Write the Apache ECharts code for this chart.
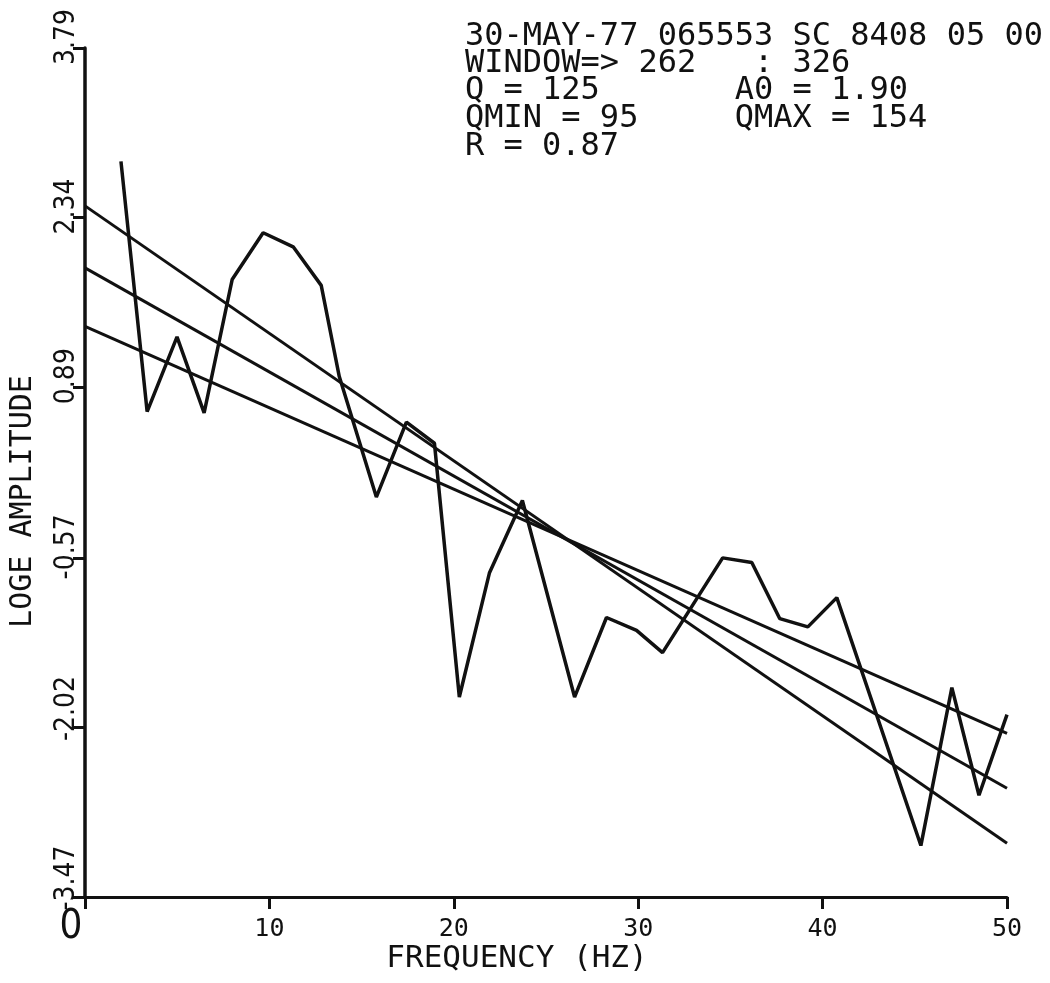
<!DOCTYPE html>
<html>
<head>
<meta charset="utf-8">
<script src="https://cdn.jsdelivr.net/npm/echarts@6/dist/echarts.min.js"></script>
<style>
html,body{margin:0;padding:0;background:#fff;}
#chart{width:1050px;height:983px;}
</style>
</head>
<body>
<div id="chart"></div>
<script>
// Spectrum samples (frequency in Hz, natural-log amplitude)
const freqHz = [1.95, 3.37, 4.99, 6.46, 7.98, 9.66, 11.29, 12.81, 13.79, 15.80, 17.43, 18.95, 20.30, 21.93, 23.72, 26.55, 28.28, 29.91, 31.32, 34.58, 36.16, 37.68, 39.20, 40.77, 45.33, 47.01, 48.48, 50.0];
const logAmp = [2.82, 0.68, 1.32, 0.67, 1.81, 2.21, 2.09, 1.76, 0.98, -0.05, 0.59, 0.41, -1.76, -0.70, -0.08, -1.76, -1.08, -1.19, -1.38, -0.57, -0.61, -1.09, -1.16, -0.91, -3.03, -1.68, -2.60, -1.91];

// Fitted lines (endpoints at 0 and 50 Hz)
const fitFreq = [0, 50];
const fitSteep = [2.44, -3.01];
const fitMid = [1.91, -2.54];
const fitShallow = [1.41, -2.07];

// Axis ticks
const yTicks = [-3.47, -2.02, -0.57, 0.89, 2.34, 3.79];
const xTicks = [0, 10, 20, 30, 40, 50];

// Header text lines
const headerLines = [
  '30-MAY-77 065553 SC 8408 05 00',
  'WINDOW=> 262   : 326',
  'Q = 125       A0 = 1.90',
  'QMIN = 95     QMAX = 154',
  'R = 0.87'
];

const pairs = (xs, ys) => xs.map((x, i) => [x, ys[i]]);
const INK = '#111';
const MONO = '"DejaVu Sans Mono", monospace';
const COND = '"DejaVu Sans Condensed", sans-serif';
const headerY = [37, 64, 91, 119, 147];

const chart = echarts.init(document.getElementById('chart'), null, {renderer: 'canvas'});

const lineSeries = (data, w) => ({
  type: 'line',
  data: data,
  symbol: 'none',
  silent: true,
  animation: false,
  lineStyle: {color: INK, width: w},
  z: 3
});

chart.setOption({
  backgroundColor: '#fff',
  animation: false,
  grid: {left: 85, right: 43, top: 48, bottom: 86, outerBoundsMode: 'none', containLabel: false},
  xAxis: {
    type: 'value',
    min: 0, max: 50,
    name: 'FREQUENCY (HZ)',
    nameLocation: 'middle',
    nameGap: 46,
    nameMoveOverlap: false,
    nameTextStyle: {fontFamily: MONO, fontSize: 31, color: INK, padding: [0, 58, 0, 0]},
    axisLine: {show: true, onZero: false, lineStyle: {color: INK, width: 3}},
    axisTick: {show: true, inside: false, length: 12, customValues: xTicks, lineStyle: {color: INK, width: 3}},
    axisLabel: {
      show: true, customValues: xTicks, margin: 20, fontFamily: MONO, fontSize: 25, color: INK,
      hideOverlap: false,
      formatter: v => v === 0 ? '{z|0}' : String(v),
      rich: {
        z: {fontFamily: '"Liberation Sans Narrow", "DejaVu Sans Condensed", sans-serif', fontSize: 40,
            lineHeight: 22, color: INK, padding: [0, 28, 0, 0]}
      }
    },
    splitLine: {show: false}
  },
  yAxis: {
    type: 'value',
    min: -3.47, max: 3.79,
    name: 'LOGE AMPLITUDE',
    nameLocation: 'middle',
    nameRotate: 90,
    nameGap: 47,
    nameMoveOverlap: false,
    nameTextStyle: {fontFamily: MONO, fontSize: 30, color: INK, padding: [0, 58, 0, 0]},
    axisLine: {show: true, onZero: false, lineStyle: {color: INK, width: 3.5}},
    axisTick: {show: true, inside: false, length: 12, customValues: yTicks, lineStyle: {color: INK, width: 3}},
    axisLabel: {
      show: true, customValues: yTicks, rotate: 90, margin: 4,
      hideOverlap: false,
      color: INK,
      formatter: v => (v < -1 ? '{lo|' : '{hi|') + v.toFixed(2) + '}',
      rich: {
        hi: {fontFamily: COND, fontSize: 28, color: INK, padding: [0, 0, 0, 22]},
        lo: {fontFamily: COND, fontSize: 28, color: INK, padding: [0, 0, 0, 38]}
      }
    },
    splitLine: {show: false}
  },
  graphic: headerLines.map((t, i) => ({
    type: 'text',
    x: 465, y: headerY[i],
    silent: true,
    style: {text: t, font: '32px ' + MONO, fill: INK, verticalAlign: 'middle', align: 'left'}
  })),
  series: [
    lineSeries(pairs(freqHz, logAmp), 3.5),
    lineSeries(pairs(fitFreq, fitSteep), 3),
    lineSeries(pairs(fitFreq, fitMid), 3),
    lineSeries(pairs(fitFreq, fitShallow), 3)
  ]
});
</script>
</body>
</html>
